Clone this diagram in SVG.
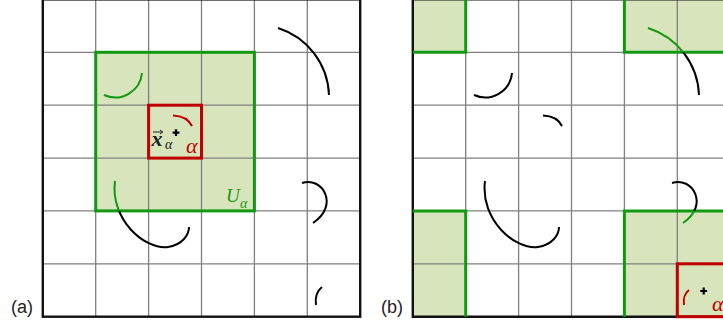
<svg xmlns="http://www.w3.org/2000/svg" xmlns:xlink="http://www.w3.org/1999/xlink" width="723" height="326" viewBox="0 0 723 326">
<style>
.fill{fill:#d8e4bc;stroke:none}
.grid{stroke:#808080;stroke-width:1.3;fill:none}
.border{stroke:#111;stroke-width:2.4;fill:none}
.gline{stroke:#119a11;stroke-width:3;fill:none}
.rline{stroke:#c00000;stroke-width:3;fill:none}
.cross{stroke:#000;stroke-width:2.2}
.lbl{font-family:"Liberation Sans",Arial,sans-serif;font-size:18px;fill:#222}
.math{font-family:"Liberation Serif","DejaVu Serif",serif;font-style:italic}
</style>
<defs>
<g id="arcs" fill="none" stroke-width="2">
<path d="M278,28 A73,73 0 0 1 329,95"/>
<path d="M104,95 A27,27 0 0 0 142,73"/>
<path d="M173,115.5 Q187,116 192,126"/>
<path d="M115,181 C110,220 145,250 168,247 C182,245 189,235 189,227"/>
<path d="M302,183 C322,176 340,205 313,223"/>
</g>
<mask id="mAk" maskUnits="userSpaceOnUse" x="0" y="0" width="723" height="326"><rect width="723" height="326" fill="#fff"/><rect x="95.7" y="52.3" width="158.7" height="158.6" fill="#000"/></mask>
<mask id="mAg" maskUnits="userSpaceOnUse" x="0" y="0" width="723" height="326"><rect x="95.7" y="52.3" width="158.7" height="158.6" fill="#fff"/><rect x="148.6" y="105.2" width="52.9" height="52.9" fill="#000"/></mask>
<clipPath id="cAr"><rect x="148.6" y="105.2" width="52.9" height="52.9"/></clipPath>
<mask id="mBk" maskUnits="userSpaceOnUse" x="0" y="0" width="723" height="326"><rect width="723" height="326" fill="#fff"/><g fill="#000"><rect x="412.8" y="-0.6" width="52.9" height="52.9"/><rect x="624.4" y="-0.6" width="105.8" height="52.9"/><rect x="412.8" y="210.9" width="52.9" height="105.8"/><rect x="624.4" y="210.9" width="105.8" height="105.8"/></g></mask>
<mask id="mBg" maskUnits="userSpaceOnUse" x="0" y="0" width="723" height="326"><g fill="#fff"><rect x="412.8" y="-0.6" width="52.9" height="52.9"/><rect x="624.4" y="-0.6" width="105.8" height="52.9"/><rect x="412.8" y="210.9" width="52.9" height="105.8"/><rect x="624.4" y="210.9" width="105.8" height="105.8"/></g><rect x="677.3" y="263.8" width="52.9" height="52.9" fill="#000"/></mask>
<clipPath id="cBr"><rect x="677.3" y="263.8" width="52.9" height="52.9"/></clipPath>
</defs>

<g id="panel-a">
<rect class="fill" x="95.7" y="52.3" width="158.7" height="158.6"/>
<g class="grid">
<path d="M95.7,-1V316.7M148.6,-1V316.7M201.5,-1V316.7M254.4,-1V316.7M307.3,-1V316.7M42.8,52.3H360.2M42.8,105.2H360.2M42.8,158.1H360.2M42.8,210.9H360.2M42.8,263.8H360.2"/>
</g>
<rect class="border" x="42.8" y="-0.6" width="317.4" height="317.3"/>
<rect id="U-a" class="gline" x="95.7" y="52.3" width="158.7" height="158.6"/>
<rect id="alpha-a" class="rline" x="148.6" y="105.2" width="52.9" height="52.9"/>
<g id="curves-a">
<use xlink:href="#arcs" stroke="#000" mask="url(#mAk)"/>
<use xlink:href="#arcs" stroke="#119a11" mask="url(#mAg)"/>
<use xlink:href="#arcs" stroke="#c00000" clip-path="url(#cAr)"/>
<path d="M322,287 C317,291 315,298 316,305" fill="none" stroke="#000" stroke-width="2"/>
</g>
<path class="cross" d="M176,129.3V136.1M172.6,132.7H179.4"/>
<path d="M153,132H162.5M160,130L162.8,132L160,134" fill="none" stroke="#222" stroke-width="1"/>
<text class="math" x="151.5" y="146" font-size="22" font-weight="bold" fill="#222">x<tspan x="165" y="148.5" font-size="14" font-weight="normal">α</tspan></text>
<text class="math" x="186" y="153" font-size="22" fill="#c00000">α</text>
<text class="math" x="226" y="201.5" font-size="19" fill="#119a11">U<tspan x="240" y="208" font-size="14">α</tspan></text>
<text class="lbl" x="11" y="313">(a)</text>
</g>

<g id="panel-b">
<g class="fill">
<rect x="412.8" y="-0.6" width="52.9" height="52.9"/>
<rect x="624.4" y="-0.6" width="105.8" height="52.9"/>
<rect x="412.8" y="210.9" width="52.9" height="105.8"/>
<rect x="624.4" y="210.9" width="105.8" height="105.8"/>
</g>
<g class="grid">
<path d="M465.7,-1V316.7M518.6,-1V316.7M571.5,-1V316.7M624.4,-1V316.7M677.3,-1V316.7M412.8,52.3H730M412.8,105.2H730M412.8,158.1H730M412.8,210.9H730M412.8,263.8H730"/>
</g>
<path class="border" d="M730,-0.6H412.8V316.7H730"/>
<g id="U-b" class="gline">
<path d="M465.7,-1V52.3H412.8"/>
<path d="M624.4,-1V52.3H730"/>
<path d="M412.8,210.9H465.7V316.7"/>
<path d="M730,210.9H624.4V316.7"/>
</g>
<rect id="alpha-b" class="rline" x="677.3" y="263.8" width="52.9" height="52.9"/>
<g id="curves-b">
<g mask="url(#mBk)"><use xlink:href="#arcs" stroke="#000" transform="translate(370,0)"/></g>
<g mask="url(#mBg)"><use xlink:href="#arcs" stroke="#119a11" transform="translate(370,0)"/></g>
<g clip-path="url(#cBr)"><use xlink:href="#arcs" stroke="#c00000" transform="translate(370,0)"/></g>
<path d="M689,290 C685,293 683,299 684,305" fill="none" stroke="#c00000" stroke-width="2"/>
</g>
<path class="cross" d="M703.7,287.6V294.4M700.3,291H707.1"/>
<text class="math" x="712" y="311" font-size="22" fill="#c00000">α</text>
<text class="lbl" x="381" y="313">(b)</text>
</g>
</svg>
